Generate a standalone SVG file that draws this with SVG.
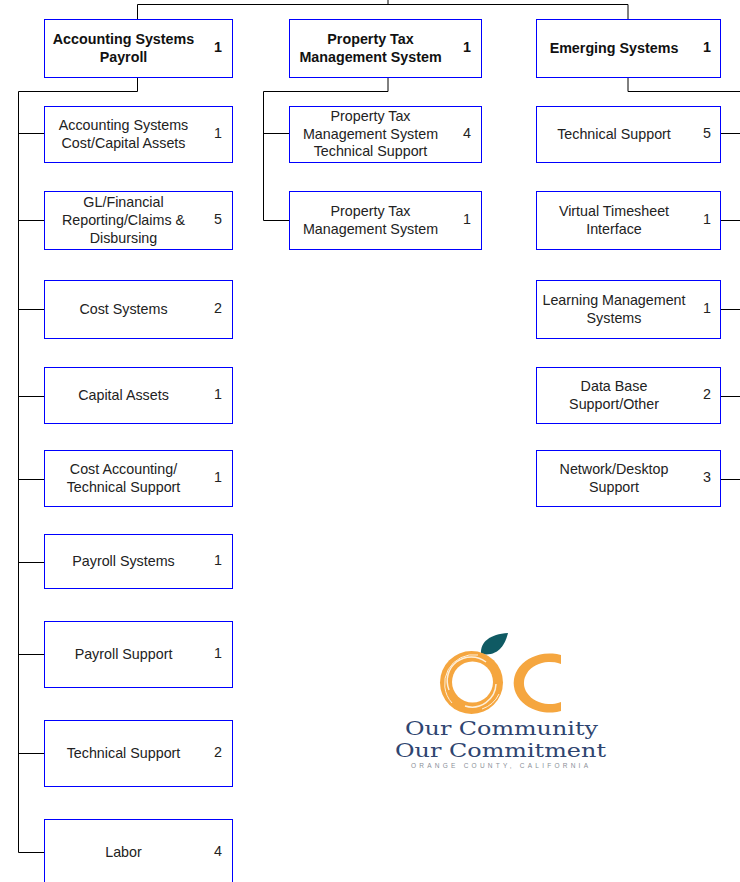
<svg xmlns="http://www.w3.org/2000/svg" width="740" height="882" viewBox="0 0 740 882">
<style>
.b{fill:#fff;stroke:#0000ff;stroke-width:1}
.t{font-family:"Liberation Sans",Arial,sans-serif;font-size:14.300px;fill:#222;text-anchor:middle}
.h{font-weight:bold;fill:#111}
.c{fill:none;stroke:#000;stroke-width:1}
.s{font-family:"DejaVu Serif","Liberation Serif",serif;font-size:18px;fill:#2f4570}
.w{fill:none;stroke:#fdf0dc}
</style>
<rect width="740" height="882" fill="#fff"/>
<g id="connectors">
<path class="c" d="M137.500 19V4.500H628V19M388 0V4.500"/>
<path class="c" d="M137.500 78V91.500H18.500V852.500H44M18.500 133.500H44M18.500 220.500H44M18.500 309.500H44M18.500 396.500H44M18.500 479.500H44M18.500 562.500H44M18.500 654.500H44M18.500 753.500H44"/>
<path class="c" d="M388 78V91.500H263.500V220.500H289M263.500 133.500H289"/>
<path class="c" d="M628 78V91.500H740M721 133.500H740M721 220.500H740M721 309.500H740M721 396.500H740M721 479.500H740"/>
</g>
<g id="n1"><rect class="b" x="44.500" y="19.500" width="188" height="58"/><text class="t h" x="123.500" y="44">Accounting Systems</text><text class="t h" x="123.500" y="62">Payroll</text><text class="t h" x="218" y="52">1</text></g>
<g id="n2"><rect class="b" x="289.500" y="19.500" width="192" height="58"/><text class="t h" x="370.500" y="44">Property Tax</text><text class="t h" x="370.500" y="62">Management System</text><text class="t h" x="467" y="52">1</text></g>
<g id="n3"><rect class="b" x="536.500" y="19.500" width="184" height="58"/><text class="t h" x="614" y="53">Emerging Systems</text><text class="t h" x="707" y="52">1</text></g>
<g id="a1"><rect class="b" x="44.500" y="106.500" width="188" height="56"/><text class="t" x="123.500" y="130">Accounting Systems</text><text class="t" x="123.500" y="148">Cost/Capital Assets</text><text class="t" x="218" y="138">1</text></g>
<g id="a2"><rect class="b" x="44.500" y="191.500" width="188" height="58"/><text class="t" x="123.500" y="207">GL/Financial</text><text class="t" x="123.500" y="225">Reporting/Claims &amp;</text><text class="t" x="123.500" y="243">Disbursing</text><text class="t" x="218" y="224">5</text></g>
<g id="a3"><rect class="b" x="44.500" y="280.500" width="188" height="58"/><text class="t" x="123.500" y="314">Cost Systems</text><text class="t" x="218" y="313">2</text></g>
<g id="a4"><rect class="b" x="44.500" y="367.500" width="188" height="56"/><text class="t" x="123.500" y="400">Capital Assets</text><text class="t" x="218" y="399">1</text></g>
<g id="a5"><rect class="b" x="44.500" y="450.500" width="188" height="56"/><text class="t" x="123.500" y="474">Cost Accounting/</text><text class="t" x="123.500" y="492">Technical Support</text><text class="t" x="218" y="482">1</text></g>
<g id="a6"><rect class="b" x="44.500" y="534.500" width="188" height="54"/><text class="t" x="123.500" y="566">Payroll Systems</text><text class="t" x="218" y="565">1</text></g>
<g id="a7"><rect class="b" x="44.500" y="621.500" width="188" height="66"/><text class="t" x="123.500" y="659">Payroll Support</text><text class="t" x="218" y="658">1</text></g>
<g id="a8"><rect class="b" x="44.500" y="720.500" width="188" height="66"/><text class="t" x="123.500" y="758">Technical Support</text><text class="t" x="218" y="757">2</text></g>
<g id="a9"><rect class="b" x="44.500" y="819.500" width="188" height="66"/><text class="t" x="123.500" y="857">Labor</text><text class="t" x="218" y="856">4</text></g>
<g id="p1"><rect class="b" x="289.500" y="106.500" width="192" height="56"/><text class="t" x="370.500" y="121">Property Tax</text><text class="t" x="370.500" y="139">Management System</text><text class="t" x="370.500" y="156">Technical Support</text><text class="t" x="467" y="138">4</text></g>
<g id="p2"><rect class="b" x="289.500" y="191.500" width="192" height="58"/><text class="t" x="370.500" y="216">Property Tax</text><text class="t" x="370.500" y="234">Management System</text><text class="t" x="467" y="224">1</text></g>
<g id="e1"><rect class="b" x="536.500" y="106.500" width="184" height="56"/><text class="t" x="614" y="139">Technical Support</text><text class="t" x="707" y="138">5</text></g>
<g id="e2"><rect class="b" x="536.500" y="191.500" width="184" height="58"/><text class="t" x="614" y="216">Virtual Timesheet</text><text class="t" x="614" y="234">Interface</text><text class="t" x="707" y="224">1</text></g>
<g id="e3"><rect class="b" x="536.500" y="280.500" width="184" height="58"/><text class="t" x="614" y="305">Learning Management</text><text class="t" x="614" y="323">Systems</text><text class="t" x="707" y="313">1</text></g>
<g id="e4"><rect class="b" x="536.500" y="367.500" width="184" height="56"/><text class="t" x="614" y="391">Data Base</text><text class="t" x="614" y="409">Support/Other</text><text class="t" x="707" y="399">2</text></g>
<g id="e5"><rect class="b" x="536.500" y="450.500" width="184" height="56"/><text class="t" x="614" y="474">Network/Desktop</text><text class="t" x="614" y="492">Support</text><text class="t" x="707" y="482">3</text></g>
<g id="logo">
<path d="M481 654C480 642 490 634 508 633C505 645 498 657 481 654Z" fill="#0f5a63"/>
<circle cx="471.500" cy="682.500" r="31.500" fill="#f5a63f"/>
<circle cx="472.500" cy="682" r="20.500" fill="#fff"/>
<path class="w" stroke-width="1.500" d="M449 690A24 24 0 0 1 486 662"/>
<path class="w" stroke-width="1" d="M452 703A29 29 0 0 1 478 655"/>
<path class="w" stroke-width="1.500" d="M496 684A24 24 0 0 1 465 706"/>
<path class="w" stroke-width="1" d="M499 694A29 29 0 0 1 482 709"/>
<path d="M561 655A36 29.500 0 1 0 561 711V702A26 21 0 1 1 561 664Z" fill="#f5a63f"/>
<text class="s" x="405" y="735" textLength="193" lengthAdjust="spacingAndGlyphs">Our Community</text>
<text class="s" x="395" y="756.500" textLength="211" lengthAdjust="spacingAndGlyphs">Our Commitment</text>
<text x="411" y="767.500" font-family="Liberation Sans,Arial,sans-serif" font-size="6.500" fill="#8a8f98" textLength="177">ORANGE COUNTY, CALIFORNIA</text>
</g>
</svg>
